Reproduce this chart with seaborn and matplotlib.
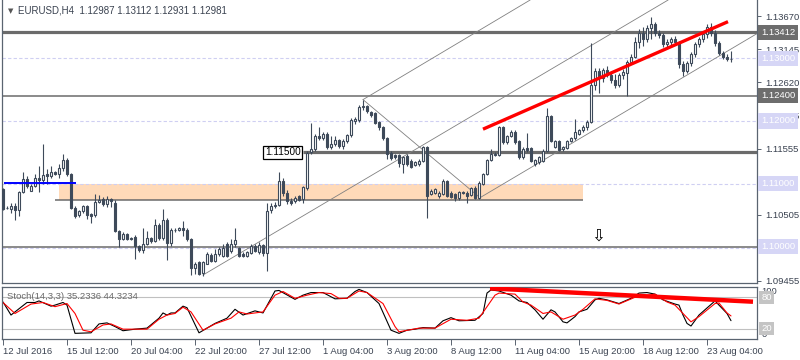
import matplotlib
matplotlib.use("Agg")
import numpy as np
import pandas as pd
import seaborn as sns
import matplotlib.pyplot as plt
from matplotlib.patches import Rectangle

sns.set_theme(style="white")
plt.rcParams['font.family'] = ['Liberation Sans', 'DejaVu Sans']

# EURUSD H4 bars, first bar 12 Jul 2016 20:00 (index 0), 4 hours per bar
opens = [
    1.1092, 1.1062, 1.1060, 1.1065, 1.1059, 1.1087, 1.1108, 1.1089, 1.1097, 1.1110,
    1.1106, 1.1116, 1.1113, 1.1119, 1.1116, 1.1125, 1.1138, 1.1116, 1.1062, 1.1050,
    1.1057, 1.1065, 1.1052, 1.1051, 1.1071, 1.1076, 1.1068, 1.1076, 1.1070, 1.1025,
    1.1013, 1.1021, 1.1014, 1.1016, 1.1001, 1.0995, 1.1005, 1.1014, 1.1009, 1.1035,
    1.1014, 1.1043, 1.1006, 1.1027, 1.1026, 1.1029, 1.1027, 1.1012, 1.0966, 1.0975,
    1.0959, 1.0973, 1.0987, 1.0977, 1.0988, 1.0986, 1.1005, 1.0993, 1.1004, 1.0998,
    1.0989, 1.0986, 1.0990, 1.1001, 1.0991, 1.1002, 1.0990, 1.1058, 1.1065, 1.1067,
    1.1105, 1.1085, 1.1073, 1.1072, 1.1080, 1.1076, 1.1094, 1.1150, 1.1155, 1.1176,
    1.1173, 1.1180, 1.1158, 1.1163, 1.1170, 1.1160, 1.1168, 1.1177, 1.1200, 1.1202,
    1.1222, 1.1224, 1.1214, 1.1212, 1.1198, 1.1190, 1.1173, 1.1149, 1.1146, 1.1146,
    1.1131, 1.1145, 1.1137, 1.1130, 1.1131, 1.1137, 1.1158, 1.1084, 1.1086, 1.1081,
    1.1084, 1.1105, 1.1086, 1.1084, 1.1077, 1.1087, 1.1086, 1.1083, 1.1094, 1.1078,
    1.1100, 1.1116, 1.1138, 1.1148, 1.1146, 1.1190, 1.1166, 1.1176, 1.1183, 1.1168,
    1.1142, 1.1157, 1.1157, 1.1131, 1.1134, 1.1137, 1.1152, 1.1208, 1.1159, 1.1168,
    1.1155, 1.1157, 1.1168, 1.1173, 1.1180, 1.1185, 1.1190, 1.1199, 1.1257, 1.1280,
    1.1268, 1.1281, 1.1273, 1.1265, 1.1257, 1.1273, 1.1276, 1.1294, 1.1302, 1.1326,
    1.1340, 1.1330, 1.1348, 1.1355, 1.1340, 1.1336, 1.1322, 1.1325, 1.1330, 1.1326,
    1.1290, 1.1280, 1.1292, 1.1306, 1.1322, 1.1330, 1.1338, 1.1350, 1.1340, 1.1324,
    1.1308, 1.1301, 1.12987,
]
highs = [
    1.1094, 1.1065, 1.1070, 1.1070, 1.1089, 1.1119, 1.1112, 1.1099, 1.1116, 1.1129,
    1.1164, 1.1124, 1.1129, 1.1121, 1.1132, 1.1148, 1.1141, 1.1118, 1.1064, 1.1059,
    1.1067, 1.1067, 1.1054, 1.1084, 1.1082, 1.1079, 1.1081, 1.1078, 1.1075, 1.1027,
    1.1023, 1.1022, 1.1016, 1.1018, 1.1003, 1.1030, 1.1025, 1.1016, 1.1044, 1.1037,
    1.1060, 1.1045, 1.1030, 1.1030, 1.1031, 1.1041, 1.1030, 1.1014, 1.0975, 1.0977,
    1.0977, 1.0992, 1.0990, 1.0997, 1.0999, 1.1005, 1.1008, 1.1013, 1.1030, 1.1000,
    1.0992, 1.0994, 1.1005, 1.1004, 1.1007, 1.1005, 1.1070, 1.1069, 1.1071, 1.1119,
    1.1110, 1.1090, 1.1078, 1.1080, 1.1083, 1.1097, 1.1152, 1.1197, 1.1180, 1.1190,
    1.1183, 1.1183, 1.1176, 1.1176, 1.1172, 1.1172, 1.1180, 1.1205, 1.1207, 1.1226,
    1.1234, 1.1226, 1.1216, 1.1214, 1.1200, 1.1192, 1.1175, 1.1152, 1.1148, 1.1148,
    1.1145, 1.1147, 1.1139, 1.1137, 1.1139, 1.1160, 1.1161, 1.1092, 1.1094, 1.1088,
    1.1107, 1.1106, 1.1088, 1.1086, 1.1089, 1.1089, 1.1088, 1.1095, 1.1096, 1.1104,
    1.1118, 1.1140, 1.1155, 1.1150, 1.1192, 1.1192, 1.1178, 1.1186, 1.1185, 1.1170,
    1.1158, 1.1181, 1.1159, 1.1140, 1.1144, 1.1155, 1.1221, 1.1210, 1.1170, 1.1170,
    1.1161, 1.1170, 1.1175, 1.1203, 1.1188, 1.1193, 1.1202, 1.1324, 1.1284, 1.1284,
    1.1285, 1.1288, 1.1280, 1.1275, 1.1276, 1.1282, 1.1297, 1.1306, 1.1334, 1.1346,
    1.1350, 1.1352, 1.1366, 1.1358, 1.1345, 1.1340, 1.1330, 1.1333, 1.1335, 1.1328,
    1.1295, 1.1295, 1.1310, 1.1326, 1.1334, 1.1342, 1.1354, 1.1356, 1.1345, 1.1328,
    1.1312, 1.1306, 1.13112,
]
lows = [
    1.1058, 1.1060, 1.1054, 1.1043, 1.1049, 1.1086, 1.1094, 1.1088, 1.1095, 1.1087,
    1.1100, 1.1100, 1.1110, 1.1114, 1.1110, 1.1121, 1.1113, 1.1060, 1.1046, 1.1048,
    1.1054, 1.1044, 1.1038, 1.1048, 1.1070, 1.1065, 1.1063, 1.1063, 1.1023, 1.1000,
    1.1011, 1.1011, 1.1010, 1.0981, 1.0992, 1.0990, 1.1003, 1.1006, 1.1007, 1.1011,
    1.1011, 1.0979, 1.1001, 1.1024, 1.1025, 1.1017, 1.1009, 1.0955, 1.0957, 1.0955,
    1.0953, 1.0972, 1.0975, 1.0975, 1.0985, 1.0984, 1.0983, 1.0990, 1.1000, 1.0983,
    1.0983, 1.0983, 1.0988, 1.0991, 1.0988, 1.0986, 1.0962, 1.1054, 1.1062, 1.1065,
    1.1080, 1.1068, 1.1067, 1.1070, 1.1073, 1.1070, 1.1090, 1.1148, 1.1152, 1.1170,
    1.1170, 1.1155, 1.1155, 1.1161, 1.1157, 1.1156, 1.1165, 1.1175, 1.1196, 1.1198,
    1.1218, 1.1213, 1.1206, 1.1195, 1.1186, 1.1170, 1.1140, 1.1138, 1.1140, 1.1127,
    1.1118, 1.1129, 1.1125, 1.1128, 1.1129, 1.1135, 1.1045, 1.1082, 1.1084, 1.1078,
    1.1082, 1.1079, 1.1077, 1.1072, 1.1075, 1.1084, 1.1070, 1.1081, 1.1076, 1.1076,
    1.1098, 1.1114, 1.1136, 1.1144, 1.1144, 1.1164, 1.1163, 1.1174, 1.1163, 1.1140,
    1.1140, 1.1150, 1.1134, 1.1129, 1.1132, 1.1135, 1.1150, 1.1166, 1.1157, 1.1152,
    1.1153, 1.1155, 1.1166, 1.1170, 1.1178, 1.1183, 1.1186, 1.1197, 1.1250, 1.1244,
    1.1262, 1.1270, 1.1260, 1.1252, 1.1254, 1.1266, 1.1239, 1.1290, 1.1300, 1.1316,
    1.1320, 1.1325, 1.1330, 1.1335, 1.1332, 1.1318, 1.1316, 1.1320, 1.1322, 1.1285,
    1.1272, 1.1276, 1.1288, 1.1302, 1.1318, 1.1326, 1.1332, 1.1335, 1.1320, 1.1305,
    1.1298, 1.1295, 1.12931,
]
closes = [
    1.1060, 1.1061, 1.1065, 1.1059, 1.1087, 1.1108, 1.1097, 1.1097, 1.1110, 1.1106,
    1.1114, 1.1113, 1.1119, 1.1116, 1.1125, 1.1138, 1.1116, 1.1062, 1.1049, 1.1057,
    1.1065, 1.1051, 1.1049, 1.1071, 1.1075, 1.1068, 1.1076, 1.1073, 1.1025, 1.1013,
    1.1021, 1.1013, 1.1013, 1.1001, 1.0995, 1.1005, 1.1014, 1.1009, 1.1035, 1.1014,
    1.1043, 1.1006, 1.1027, 1.1026, 1.1029, 1.1026, 1.1012, 1.0966, 1.0973, 1.0957,
    1.0975, 1.0989, 1.0977, 1.0989, 1.0996, 1.0998, 1.0986, 1.1004, 1.1010, 1.0986,
    1.0986, 1.0991, 1.1001, 1.0994, 1.1002, 1.0990, 1.1057, 1.1065, 1.1067, 1.1105,
    1.1085, 1.1073, 1.1070, 1.1078, 1.1075, 1.1095, 1.1149, 1.1155, 1.1176, 1.1173,
    1.1180, 1.1158, 1.1164, 1.1170, 1.1160, 1.1168, 1.1177, 1.1202, 1.1203, 1.1222,
    1.1224, 1.1216, 1.1210, 1.1197, 1.1190, 1.1173, 1.1148, 1.1141, 1.1142, 1.1133,
    1.1142, 1.1131, 1.1127, 1.1134, 1.1137, 1.1158, 1.1081, 1.1089, 1.1092, 1.1086,
    1.1105, 1.1081, 1.1079, 1.1077, 1.1087, 1.1086, 1.1081, 1.1093, 1.1078, 1.1102,
    1.1116, 1.1138, 1.1147, 1.1146, 1.1190, 1.1166, 1.1176, 1.1183, 1.1166, 1.1142,
    1.1155, 1.1154, 1.1137, 1.1138, 1.1142, 1.1152, 1.1208, 1.1168, 1.1168, 1.1154,
    1.1159, 1.1168, 1.1173, 1.1182, 1.1185, 1.1190, 1.1199, 1.1257, 1.1280, 1.1268,
    1.1281, 1.1273, 1.1265, 1.1257, 1.1273, 1.1278, 1.1294, 1.1302, 1.1326, 1.1340,
    1.1330, 1.1348, 1.1355, 1.1340, 1.1336, 1.1322, 1.1325, 1.1330, 1.1326, 1.1290,
    1.1280, 1.1292, 1.1306, 1.1322, 1.1330, 1.1338, 1.1350, 1.1340, 1.1324, 1.1308,
    1.1301, 1.1299, 1.12981,
]

# Stochastic (14,3,3): bar index -> value
stoch_k_bars = [0, 2, 3, 6, 8, 9, 12, 13, 15, 16, 18, 22, 24, 26, 28, 30, 33, 36, 39, 40,
                41, 42, 43, 45, 46, 49, 53, 56, 58, 60, 63, 65, 68, 69, 73, 75, 77, 80, 83, 86,
                88, 89, 91, 94, 97, 99, 101, 103, 105, 108, 110, 112, 114, 118, 120, 121, 122, 124, 127, 129,
                131, 133, 135, 137, 138, 140, 141, 143, 144, 146, 148, 149, 151, 154, 157, 159, 161, 163, 165, 168,
                169, 170, 171, 172, 174, 178, 179, 181, 182]
stoch_k_vals = [71, 46, 52, 70, 70, 73, 63, 65, 70, 65, 11, 12, 29, 31, 24, 16, 19, 21, 40, 50,
                46, 50, 50, 63, 60, 12, 30, 40, 57, 46, 54, 50, 92, 93, 76, 84, 89, 89, 77, 78,
                91, 95, 89, 68, 17, 11, 17, 19, 22, 21, 35, 41, 35, 36, 49, 88, 94, 92, 84, 73,
                70, 56, 38, 56, 52, 33, 31, 43, 52, 57, 75, 78, 75, 68, 78, 88, 89, 86, 75, 67,
                65, 46, 30, 25, 46, 73, 65, 49, 35.2336]
stoch_d_bars = [0, 3, 7, 10, 13, 16, 18, 20, 22, 25, 27, 30, 33, 36, 39, 41, 43, 45, 47, 50,
                53, 57, 59, 61, 65, 68, 70, 73, 76, 79, 82, 84, 86, 89, 91, 95, 98, 99, 104, 108,
                112, 116, 119, 123, 124, 128, 130, 132, 135, 137, 140, 143, 145, 148, 151, 154, 158, 163, 166, 168,
                172, 174, 178, 179, 181, 182]
stoch_d_vals = [70, 49, 67, 70, 62, 68, 49, 17, 14, 27, 29, 19, 19, 19, 38, 46, 49, 61, 52, 17,
                29, 40, 52, 48, 52, 84, 91, 78, 84, 89, 87, 78, 78, 92, 89, 68, 24, 14, 21, 21,
                38, 36, 40, 84, 88, 86, 71, 65, 49, 52, 38, 46, 57, 77, 74, 67, 80, 86, 71, 65,
                33, 43, 68, 69, 50, 44.3234]

# horizontal price levels
level_thick = 1.13412
level_thin = 1.12400
level_mid = 1.11500
level_round = 1.10000
dashed_levels = [1.13000, 1.12000, 1.11000, 1.10000]
zone_low, zone_high = 1.10746, 1.11000
zone_bars = (14, 145)
blue_level, blue_bars = 1.1101, (0.25, 18.25)

# trend lines: ((bar, price), (bar, price))
channel_lines = [
    ((50, 1.0955), (166.3, 1.13925)),
    ((90, 1.1234), (131.8, 1.13925)),
    ((90, 1.1234), (119.25, 1.1078)),
    ((119.25, 1.1078), (188.5, 1.1339)),
]
red_trend = ((120, 1.1187), (181.25, 1.1358))
stoch_trend = ((121.75, 97), (187.5, 71.5))
arrow_bar, arrow_price = 148.75, 1.1017

price_ticks = [1.13670, 1.13145, 1.12620, 1.12095, 1.11555, 1.10505, 1.09455]
time_tick_bars = [0, 16, 32, 48, 64, 80, 96, 112, 128, 144, 160, 176]
time_tick_labels = ["12 Jul 2016", "15 Jul 12:00", "20 Jul 04:00", "22 Jul 20:00",
                    "27 Jul 12:00", "1 Aug 04:00", "3 Aug 20:00", "8 Aug 12:00",
                    "11 Aug 04:00", "15 Aug 20:00", "18 Aug 12:00", "23 Aug 04:00"]

CANDLE = "#3e4a5a"
FRAME = "#5a6470"
GREY = "#6b6b6b"
LAV_LINE = "#cfcff2"
LAV_BOX = "#d6d6f6"
TXT = "#3a4250"

df = pd.DataFrame({"o": opens, "h": highs, "l": lows, "c": closes})
df["bar"] = np.arange(len(df))
df["up"] = df["c"] >= df["o"]
df["bottom"] = df[["o", "c"]].min(axis=1)
df["height"] = (df["c"] - df["o"]).abs().clip(lower=0.00003)

fig = plt.figure(figsize=(8, 3.6), dpi=100)
ax = fig.add_axes([2 / 800, 77 / 360, 755 / 800, 283 / 360])
ax2 = fig.add_axes([2 / 800, 20.9 / 360, 755 / 800, 52.3 / 360])

# ---- main price panel
ax.set_xlim(-0.25, 188.5)
ax.set_ylim(1.094231, 1.139245)

ax.add_patch(Rectangle((zone_bars[0], zone_low), zone_bars[1] - zone_bars[0], zone_high - zone_low,
                       facecolor="#ffdab9", edgecolor="none", zorder=1))
ax.hlines(zone_low, zone_bars[0] - 1, zone_bars[1], color=GREY, lw=1.1, zorder=2)
for lv in dashed_levels:
    off = -0.00015 if lv == level_round else 0
    ax.axhline(lv + off, color=LAV_LINE, lw=0.8, ls=(0, (3, 2)), zorder=2)
ax.axhline(level_thick, color=GREY, lw=2.3, zorder=2)
ax.axhline(level_thin, color=GREY, lw=1.1, zorder=2)
ax.axhline(level_round, color=GREY, lw=1.1, zorder=2)
ax.hlines(level_mid, 75, 188.5, color=GREY, lw=2.3, zorder=2)
ax.hlines(blue_level, *blue_bars, color="#0000ff", lw=1.4, zorder=5)

for (x0, y0), (x1, y1) in channel_lines:
    ax.plot([x0, x1], [y0, y1], color="#808080", lw=0.6, zorder=2)
ax.plot([red_trend[0][0], red_trend[1][0]], [red_trend[0][1], red_trend[1][1]],
        color="#ff0000", lw=2.4, solid_capstyle="butt", zorder=6)

# candles
ax.vlines(df["bar"], df["l"], df["h"], color=CANDLE, lw=0.8, zorder=3)
up = df[df["up"]]
dn = df[~df["up"]]
ax.bar(up["bar"], up["height"], bottom=up["bottom"], width=0.55, facecolor="white",
       edgecolor=CANDLE, linewidth=0.8, zorder=4)
ax.bar(dn["bar"], dn["height"], bottom=dn["bottom"], width=0.55, facecolor=CANDLE,
       edgecolor=CANDLE, linewidth=0.8, zorder=4)

ax.text(74.4, level_mid, "1.11500", ha="right", va="center", fontsize=7.2, color="black",
        bbox=dict(boxstyle="square,pad=0.18", fc="white", ec="black", lw=0.9), zorder=7)
ax.text(arrow_bar, arrow_price, "\u21e9", ha="center", va="center", fontsize=12,
        family="DejaVu Sans", color="black", zorder=7)

ax.yaxis.tick_right()
ax.set_yticks(price_ticks)
ax.set_yticklabels([f"{t:.5f}" for t in price_ticks])
ax.tick_params(axis="y", length=3, width=0.7, color=FRAME, pad=3, labelsize=6.8, labelcolor=TXT)
ax.set_xticks([])
for side in ["left", "bottom", "right"]:
    ax.spines[side].set_color(FRAME)
    ax.spines[side].set_linewidth(0.9)
ax.spines["top"].set_visible(False)

ytr = ax.get_yaxis_transform()
for lv, fc, tc in [(level_thick, "#6d6d6d", "white"), (1.13000, LAV_BOX, "white"),
                   (level_thin, "#6d6d6d", "white"), (1.12000, LAV_BOX, "white"),
                   (1.11000, LAV_BOX, "white"), (level_round, LAV_BOX, "white")]:
    ax.text(1.0055, lv, f"{lv:.5f}", transform=ytr, ha="left", va="center", fontsize=6.8,
            color=tc, clip_on=False, zorder=8,
            bbox=dict(boxstyle="square,pad=0.32", fc=fc, ec="none"))

fig.text(8 / 800, 1 - 11 / 360, "\u25bc", fontsize=5, color="#555555", va="center",
         family="DejaVu Sans")
fig.text(18 / 800, 1 - 10.5 / 360, "EURUSD,H4  1.12987 1.13112 1.12931 1.12981",
         fontsize=7, color=TXT, va="center")

# ---- stochastic panel
ax2.set_xlim(-0.25, 188.5)
ax2.set_ylim(0, 100)
ax2.axhline(80, color="#c0c0c0", lw=0.8)
ax2.axhline(20, color="#c0c0c0", lw=0.8)
sns.lineplot(x=stoch_k_bars, y=stoch_k_vals, ax=ax2, color="black", lw=0.8,
             sort=False, estimator=None)
sns.lineplot(x=stoch_d_bars, y=stoch_d_vals, ax=ax2, color="#ff0000", lw=0.8,
             sort=False, estimator=None)
ax2.plot([stoch_trend[0][0], stoch_trend[1][0]], [stoch_trend[0][1], stoch_trend[1][1]],
         color="#ff0000", lw=3.2, solid_capstyle="butt", zorder=6)
ax2.text(0.007, 0.82, "Stoch(14,3,3) 35.2336 44.3234", transform=ax2.transAxes,
         fontsize=6.8, color="#6a6a6a", va="center")

ax2.set_yticks([])
ax2.set_xticks(time_tick_bars)
ax2.set_xticklabels(time_tick_labels, ha="left")
ax2.tick_params(axis="x", length=4, width=0.7, color=FRAME, pad=2, labelsize=6.8,
                labelcolor=TXT, direction="out", bottom=True)
for side in ["left", "bottom", "right", "top"]:
    ax2.spines[side].set_color(FRAME)
    ax2.spines[side].set_linewidth(0.9)
ax2.set_xlabel("")
ax2.set_ylabel("")

ytr2 = ax2.get_yaxis_transform()
ax2.text(1.0055, 99, "100", transform=ytr2, ha="left", va="top", fontsize=6.8, color=TXT, clip_on=False)
for lv in [80, 20]:
    ax2.text(1.0055, lv, str(lv), transform=ytr2, ha="left", va="center", fontsize=6.8,
             color="white", clip_on=False, zorder=8,
             bbox=dict(boxstyle="square,pad=0.2", fc="#c4c4c4", ec="none"))
ax2.text(1.0055, 1, "0", transform=ytr2, ha="left", va="bottom", fontsize=6.8, color=TXT, clip_on=False)

fig.savefig("out.png", dpi=100, facecolor="white")
